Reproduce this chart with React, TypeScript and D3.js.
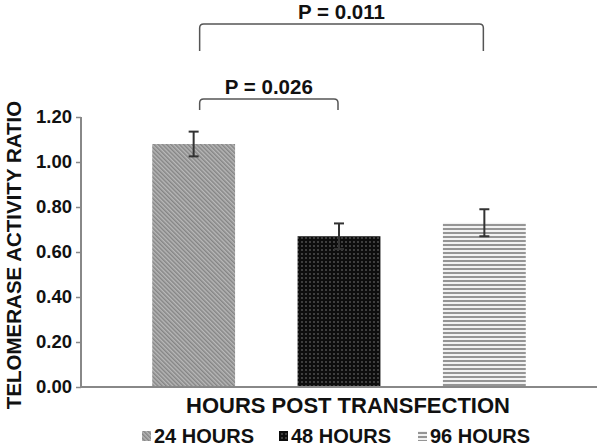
import { useEffect, useRef } from 'react';
import * as d3 from 'd3';

// data
const categories = ['24 HOURS', '48 HOURS', '96 HOURS'];
const values = [1.08, 0.67, 0.73];
const errors = [0.055, 0.057, 0.06];
const yTicks = [0, 0.2, 0.4, 0.6, 0.8, 1.0, 1.2];
const comparisons = [
  { from: 0, to: 2, label: 'P = 0.011' },
  { from: 0, to: 1, label: 'P = 0.026' },
];
const patternIds = ['diag', 'dots', 'stripes'];

const FONT = '"Liberation Sans", Arial, sans-serif';

export default function App() {
  const ref = useRef<SVGSVGElement | null>(null);
  const width = 600;
  const height = 446;

  useEffect(() => {
    const svg = d3.select(ref.current);
    svg.selectAll('*').remove();

    const x = d3
      .scaleBand<number>()
      .domain(d3.range(categories.length))
      .range([81, 597])
      .paddingInner(0.43)
      .paddingOuter(0.49);

    const y = d3.scaleLinear().domain([0, 1.2]).range([387, 117]);

    // patterns
    const defs = svg.append('defs');
    const diag = defs
      .append('pattern')
      .attr('id', 'diag')
      .attr('patternUnits', 'userSpaceOnUse')
      .attr('width', 3)
      .attr('height', 3)
      .attr('patternTransform', 'rotate(-45)');
    diag.append('rect').attr('width', 3).attr('height', 3).attr('fill', '#b8b8b8');
    diag
      .append('line')
      .attr('x1', 0.75).attr('y1', 0).attr('x2', 0.75).attr('y2', 3)
      .attr('stroke', '#858585')
      .attr('stroke-width', 1.5);

    const dots = defs
      .append('pattern')
      .attr('id', 'dots')
      .attr('patternUnits', 'userSpaceOnUse')
      .attr('width', 4)
      .attr('height', 4);
    dots.append('rect').attr('width', 4).attr('height', 4).attr('fill', '#0d0d0d');
    dots.append('circle').attr('cx', 2).attr('cy', 2).attr('r', 0.9).attr('fill', '#555');

    const stripes = defs
      .append('pattern')
      .attr('id', 'stripes')
      .attr('patternUnits', 'userSpaceOnUse')
      .attr('width', 4)
      .attr('height', 4);
    stripes.append('rect').attr('width', 4).attr('height', 4).attr('fill', '#f2f2f2');
    stripes.append('rect').attr('width', 4).attr('height', 2).attr('fill', '#959595');

    // bars
    svg
      .append('g')
      .selectAll('rect')
      .data(values)
      .join('rect')
      .attr('x', (_, i) => x(i)!)
      .attr('y', d => y(d))
      .attr('width', x.bandwidth())
      .attr('height', d => y(0) - y(d))
      .attr('fill', (_, i) => `url(#${patternIds[i]})`);

    // error bars
    const eb = svg.append('g').attr('stroke', '#333').attr('stroke-width', 2).attr('fill', 'none');
    values.forEach((v, i) => {
      const cx = x(i)! + x.bandwidth() / 2;
      const top = y(v + errors[i]);
      const bot = y(v - errors[i]);
      eb.append('line').attr('x1', cx).attr('x2', cx).attr('y1', top).attr('y2', bot);
      eb.append('line').attr('x1', cx - 5).attr('x2', cx + 5).attr('y1', top).attr('y2', top);
      eb.append('line').attr('x1', cx - 5).attr('x2', cx + 5).attr('y1', bot).attr('y2', bot);
    });

    // axes
    const yAxis = svg
      .append('g')
      .attr('transform', 'translate(81,0)')
      .call(
        d3
          .axisLeft(y)
          .tickValues(yTicks)
          .tickFormat(d3.format('.2f'))
          .tickSize(5)
          .tickPadding(4)
      );
    yAxis.select('.domain').attr('stroke', '#888').attr('stroke-width', 2).attr('d', `M0,${y(1.2)}V${y(0)}`);
    yAxis.selectAll('.tick line').attr('stroke', '#888').attr('stroke-width', 1.5);
    yAxis
      .selectAll('.tick text')
      .attr('font-family', FONT)
      .attr('font-size', 18.5)
      .attr('font-weight', 'bold')
      .attr('fill', '#111');

    svg
      .append('line')
      .attr('x1', 80)
      .attr('x2', 597)
      .attr('y1', y(0))
      .attr('y2', y(0))
      .attr('stroke', '#888')
      .attr('stroke-width', 2);

    // significance brackets
    const bracketY = [24, 99];
    const bracketDrop = [27, 11];
    comparisons.forEach((c, k) => {
      const x1 = x(c.from)! + x.bandwidth() / 2 + 6;
      const x2 = x(c.to)! + x.bandwidth() / 2 - 1;
      const by = bracketY[k];
      const r = 4;
      svg
        .append('path')
        .attr(
          'd',
          `M${x1},${by + bracketDrop[k]}V${by + r}Q${x1},${by} ${x1 + r},${by}H${x2 - r}Q${x2},${by} ${x2},${by + r}V${by + bracketDrop[k]}`
        )
        .attr('fill', 'none')
        .attr('stroke', '#555')
        .attr('stroke-width', 1.5);
      svg
        .append('text')
        .attr('x', (x1 + x2) / 2)
        .attr('y', by - 5)
        .attr('text-anchor', 'middle')
        .attr('font-family', FONT)
        .attr('font-size', 20.5)
        .attr('font-weight', 'bold')
        .attr('fill', '#111')
        .text(c.label);
    });

    // axis titles
    svg
      .append('text')
      .attr('x', 348)
      .attr('y', 413)
      .attr('text-anchor', 'middle')
      .attr('font-family', FONT)
      .attr('font-size', 22)
      .attr('font-weight', 'bold')
      .attr('fill', '#111')
      .text('HOURS POST TRANSFECTION');

    svg
      .append('text')
      .attr('transform', 'translate(21,255) rotate(-90)')
      .attr('text-anchor', 'middle')
      .attr('font-family', FONT)
      .attr('font-size', 20.5)
      .attr('font-weight', 'bold')
      .attr('fill', '#111')
      .text('TELOMERASE ACTIVITY RATIO');

    // legend
    const legendX = [142, 279, 418];
    const lg = svg.append('g');
    categories.forEach((c, i) => {
      lg.append('rect')
        .attr('x', legendX[i])
        .attr('y', 431)
        .attr('width', 9)
        .attr('height', 10)
        .attr('fill', `url(#${patternIds[i]})`);
      lg.append('text')
        .attr('x', legendX[i] + 12)
        .attr('y', 443)
        .attr('font-family', FONT)
        .attr('font-size', 20)
        .attr('font-weight', 'bold')
        .attr('fill', '#111')
        .text(c);
    });
  }, []);

  return (
    <svg
      ref={ref}
      width={width}
      height={height}
      style={{ position: 'absolute', left: 0, top: 0, background: '#fff' }}
    ></svg>
  );
}
